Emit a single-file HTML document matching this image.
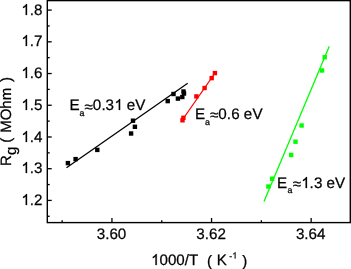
<!DOCTYPE html><html><head><meta charset="utf-8"><style>
html,body{margin:0;padding:0;background:#fff;}
body{width:351px;height:269px;overflow:hidden;position:relative;}
svg{position:absolute;left:0;top:0;-webkit-font-smoothing:antialiased;will-change:transform;}
text{font-family:"Liberation Sans",sans-serif;fill:#000;text-rendering:geometricPrecision;stroke:#000;stroke-width:0.25px;}
.g{fill:#000;stroke:#000;stroke-width:0.25px;vector-effect:non-scaling-stroke;}
</style></head><body>
<svg width="351" height="269" viewBox="0 0 351 269">
<rect x="47.3" y="0.6" width="303.00" height="222.00" fill="none" stroke="#000" stroke-width="1.4"/>
<line x1="47.3" y1="216.28" x2="49.70" y2="216.28" stroke="#000" stroke-width="1.3"/>
<line x1="47.3" y1="200.42" x2="51.70" y2="200.42" stroke="#000" stroke-width="1.3"/>
<path d="M763 0H583V1147C540 1106 483 1065 413 1024C343 983 280 952 224 931V1105C325 1152 413 1210 488 1278C563 1346 616 1412 647 1476H763Z" transform="translate(21.37,205) scale(0.00742,-0.00742)" class="g"/>
<text x="29.82 34.05" y="205" font-size="15.2">.2</text>
<line x1="47.3" y1="184.56" x2="49.70" y2="184.56" stroke="#000" stroke-width="1.3"/>
<line x1="47.3" y1="168.70" x2="51.70" y2="168.70" stroke="#000" stroke-width="1.3"/>
<path d="M763 0H583V1147C540 1106 483 1065 413 1024C343 983 280 952 224 931V1105C325 1152 413 1210 488 1278C563 1346 616 1412 647 1476H763Z" transform="translate(21.37,173) scale(0.00742,-0.00742)" class="g"/>
<text x="29.82 34.05" y="173" font-size="15.2">.3</text>
<line x1="47.3" y1="152.84" x2="49.70" y2="152.84" stroke="#000" stroke-width="1.3"/>
<line x1="47.3" y1="136.98" x2="51.70" y2="136.98" stroke="#000" stroke-width="1.3"/>
<path d="M763 0H583V1147C540 1106 483 1065 413 1024C343 983 280 952 224 931V1105C325 1152 413 1210 488 1278C563 1346 616 1412 647 1476H763Z" transform="translate(21.37,142) scale(0.00742,-0.00742)" class="g"/>
<text x="29.82 34.05" y="142" font-size="15.2">.4</text>
<line x1="47.3" y1="121.12" x2="49.70" y2="121.12" stroke="#000" stroke-width="1.3"/>
<line x1="47.3" y1="105.26" x2="51.70" y2="105.26" stroke="#000" stroke-width="1.3"/>
<path d="M763 0H583V1147C540 1106 483 1065 413 1024C343 983 280 952 224 931V1105C325 1152 413 1210 488 1278C563 1346 616 1412 647 1476H763Z" transform="translate(21.37,110) scale(0.00742,-0.00742)" class="g"/>
<text x="29.82 34.05" y="110" font-size="15.2">.5</text>
<line x1="47.3" y1="89.40" x2="49.70" y2="89.40" stroke="#000" stroke-width="1.3"/>
<line x1="47.3" y1="73.54" x2="51.70" y2="73.54" stroke="#000" stroke-width="1.3"/>
<path d="M763 0H583V1147C540 1106 483 1065 413 1024C343 983 280 952 224 931V1105C325 1152 413 1210 488 1278C563 1346 616 1412 647 1476H763Z" transform="translate(21.37,78) scale(0.00742,-0.00742)" class="g"/>
<text x="29.82 34.05" y="78" font-size="15.2">.6</text>
<line x1="47.3" y1="57.68" x2="49.70" y2="57.68" stroke="#000" stroke-width="1.3"/>
<line x1="47.3" y1="41.82" x2="51.70" y2="41.82" stroke="#000" stroke-width="1.3"/>
<path d="M763 0H583V1147C540 1106 483 1065 413 1024C343 983 280 952 224 931V1105C325 1152 413 1210 488 1278C563 1346 616 1412 647 1476H763Z" transform="translate(21.37,46) scale(0.00742,-0.00742)" class="g"/>
<text x="29.82 34.05" y="46" font-size="15.2">.7</text>
<line x1="47.3" y1="25.96" x2="49.70" y2="25.96" stroke="#000" stroke-width="1.3"/>
<line x1="47.3" y1="10.10" x2="51.70" y2="10.10" stroke="#000" stroke-width="1.3"/>
<path d="M763 0H583V1147C540 1106 483 1065 413 1024C343 983 280 952 224 931V1105C325 1152 413 1210 488 1278C563 1346 616 1412 647 1476H763Z" transform="translate(21.37,15) scale(0.00742,-0.00742)" class="g"/>
<text x="29.82 34.05" y="15" font-size="15.2">.8</text>
<line x1="62.15" y1="222.6" x2="62.15" y2="220.20" stroke="#000" stroke-width="1.3"/>
<line x1="111.95" y1="222.6" x2="111.95" y2="218.00" stroke="#000" stroke-width="1.3"/>
<text x="96.71 105.16 109.38 117.84" y="239" font-size="15.2">3.60</text>
<line x1="161.75" y1="222.6" x2="161.75" y2="220.20" stroke="#000" stroke-width="1.3"/>
<line x1="211.55" y1="222.6" x2="211.55" y2="218.00" stroke="#000" stroke-width="1.3"/>
<text x="196.31 204.76 208.98 217.44" y="239" font-size="15.2">3.62</text>
<line x1="261.35" y1="222.6" x2="261.35" y2="220.20" stroke="#000" stroke-width="1.3"/>
<line x1="311.15" y1="222.6" x2="311.15" y2="218.00" stroke="#000" stroke-width="1.3"/>
<text x="295.91 304.36 308.58 317.04" y="239" font-size="15.2">3.64</text>
<path d="M763 0H583V1147C540 1106 483 1065 413 1024C343 983 280 952 224 931V1105C325 1152 413 1210 488 1278C563 1346 616 1412 647 1476H763Z" transform="translate(151.15,265) scale(0.00737,-0.00737)" class="g"/>
<text x="159.55 167.95 176.34 184.74 188.94" y="265" font-size="15.1">000/T</text>
<text x="207.06" y="266" font-size="15.1">(</text>
<text x="216.66" y="265" font-size="15.1">K</text>
<path d="M763 0H583V1147C540 1106 483 1065 413 1024C343 983 280 952 224 931V1105C325 1152 413 1210 488 1278C563 1346 616 1412 647 1476H763Z" transform="translate(232.21,258.5) scale(0.00430,-0.00430)" class="g"/>
<text x="229.28" y="258.5" font-size="8.8">-</text>
<text x="242.36" y="266" font-size="15.1">)</text>
<text transform="translate(11.0,166.1) rotate(-90)" font-size="15">R</text>
<text transform="translate(15.5,154.9) rotate(-90)" font-size="15">g</text>
<text transform="translate(11.0,142.7) rotate(-90)" font-size="15">(</text>
<text transform="translate(11.0,132.8) rotate(-90)" font-size="15">MOhm</text>
<text transform="translate(11.0,82.0) rotate(-90)" font-size="15">)</text>
<line x1="66.5" y1="167.8" x2="187.7" y2="83.3" stroke="#000" stroke-width="1.3"/>
<rect x="65.70" y="160.90" width="4.4" height="4.4" fill="#000"/>
<rect x="73.40" y="156.90" width="4.4" height="4.4" fill="#000"/>
<rect x="95.10" y="147.70" width="4.4" height="4.4" fill="#000"/>
<rect x="128.90" y="131.30" width="4.4" height="4.4" fill="#000"/>
<rect x="132.70" y="124.60" width="4.4" height="4.4" fill="#000"/>
<rect x="130.80" y="118.50" width="4.4" height="4.4" fill="#000"/>
<rect x="165.50" y="98.90" width="4.4" height="4.4" fill="#000"/>
<rect x="171.30" y="91.80" width="4.4" height="4.4" fill="#000"/>
<rect x="175.70" y="96.40" width="4.4" height="4.4" fill="#000"/>
<rect x="181.30" y="89.30" width="4.4" height="4.4" fill="#000"/>
<rect x="180.10" y="94.80" width="4.4" height="4.4" fill="#000"/>
<rect x="181.80" y="91.30" width="4.4" height="4.4" fill="#000"/>
<line x1="183" y1="119" x2="215" y2="73" stroke="#f00" stroke-width="1.3"/>
<rect x="181.20" y="115.60" width="4.4" height="4.4" fill="#f00"/>
<rect x="180.30" y="118.10" width="4.4" height="4.4" fill="#f00"/>
<rect x="194.20" y="94.20" width="4.4" height="4.4" fill="#f00"/>
<rect x="202.40" y="85.80" width="4.4" height="4.4" fill="#f00"/>
<rect x="209.50" y="75.90" width="4.4" height="4.4" fill="#f00"/>
<rect x="212.70" y="70.90" width="4.4" height="4.4" fill="#f00"/>
<line x1="264" y1="201.4" x2="329.3" y2="46.2" stroke="#0f0" stroke-width="1.3"/>
<rect x="266.20" y="184.30" width="4.4" height="4.4" fill="#0f0"/>
<rect x="269.90" y="176.60" width="4.4" height="4.4" fill="#0f0"/>
<rect x="289.00" y="152.70" width="4.4" height="4.4" fill="#0f0"/>
<rect x="293.30" y="139.50" width="4.4" height="4.4" fill="#0f0"/>
<rect x="299.40" y="123.30" width="4.4" height="4.4" fill="#0f0"/>
<rect x="319.80" y="68.30" width="4.4" height="4.4" fill="#0f0"/>
<rect x="322.50" y="55.00" width="4.4" height="4.4" fill="#0f0"/>
<text x="69.43" y="110" font-size="15.2">E</text>
<text x="79.52" y="116" font-size="8.8">a</text>
<text x="84.53" y="112" font-size="15.2">≈</text>
<path d="M763 0H583V1147C540 1106 483 1065 413 1024C343 983 280 952 224 931V1105C325 1152 413 1210 488 1278C563 1346 616 1412 647 1476H763Z" transform="translate(114.46,110) scale(0.00742,-0.00742)" class="g"/>
<text x="92.67 101.49 105.42 126.64 135.18" y="110" font-size="15.2">0.3eV</text>
<text x="194.88" y="119" font-size="15.2">E</text>
<text x="205.02" y="125" font-size="8.8">a</text>
<text x="210.03" y="120" font-size="15.2">≈</text>
<text x="218.27 226.69 231.22 243.64 252.38" y="119" font-size="15.2">0.6eV</text>
<text x="277.03" y="188" font-size="15.2">E</text>
<text x="287.57" y="193" font-size="8.8">a</text>
<text x="292.68" y="189" font-size="15.2">≈</text>
<path d="M763 0H583V1147C540 1106 483 1065 413 1024C343 983 280 952 224 931V1105C325 1152 413 1210 488 1278C563 1346 616 1412 647 1476H763Z" transform="translate(301.31,188) scale(0.00742,-0.00742)" class="g"/>
<text x="309.39 314.12 326.49 334.93" y="188" font-size="15.2">.3eV</text>
</svg></body></html>
